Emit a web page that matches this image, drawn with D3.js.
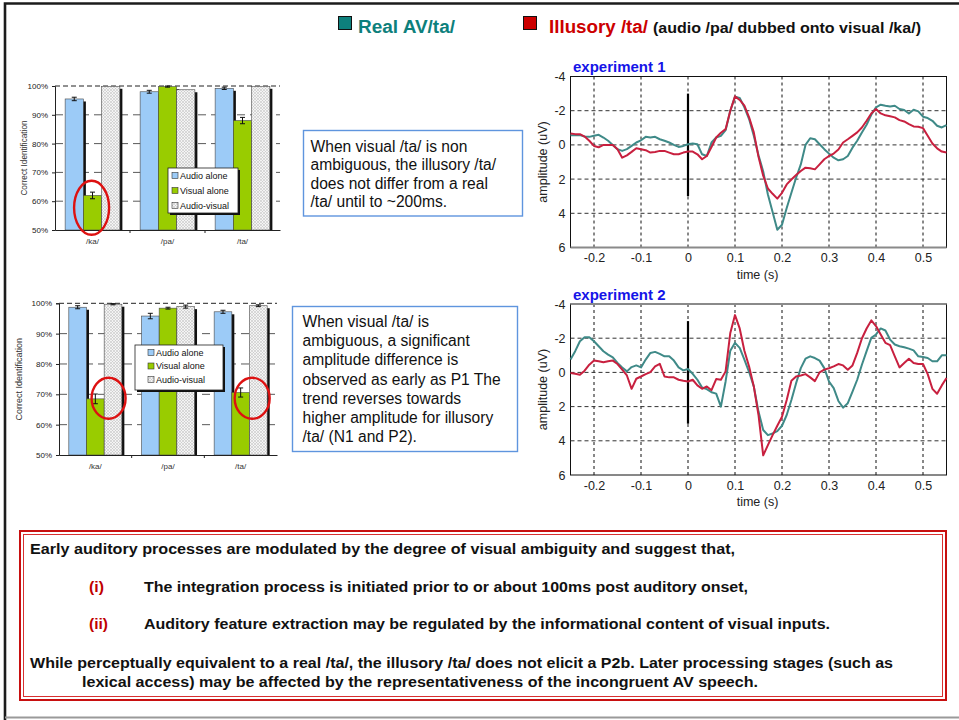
<!DOCTYPE html>
<html>
<head>
<meta charset="utf-8">
<script src="https://cdn.jsdelivr.net/npm/d3@7"></script>
<style>
  body { margin: 0; background: #fff; }
  svg { display: block; font-family: Arial, "Liberation Sans", sans-serif; }
</style>
</head>
<body>
<svg id="poster" width="959" height="720"></svg>
<script>
// ---------- identification scores (% correct) ----------
const categories = ["/ka/", "/pa/", "/ta/"];
const conditions = ["Audio alone", "Visual alone", "Audio-visual"];
const pctTicks = [50, 60, 70, 80, 90, 100];

const exp1Audio     = [95.5, 98.0, 99.2];
const exp1Visual    = [62.0, 99.8, 88.0];
const exp1AV        = [99.9, 98.7, 99.9];
const exp1AudioErr  = [0.6, 0.5, 0.4];
const exp1VisualErr = [1.15, 0.2, 1.1];
const exp1AVErr     = [0, 0, 0];

const exp2Audio     = [98.7, 95.8, 97.2];
const exp2Visual    = [68.5, 98.4, 70.6];
const exp2AV        = [99.7, 98.9, 99.2];
const exp2AudioErr  = [0.5, 0.9, 0.5];
const exp2VisualErr = [1.6, 0.3, 1.5];
const exp2AVErr     = [0.2, 0.5, 0.3];

// ---------- ERP waveforms (uV), sampled every 10 ms from -0.25 s ----------
const tStart = -0.25, tStep = 0.01;
const timeTicks = [-0.2, -0.1, 0, 0.1, 0.2, 0.3, 0.4, 0.5];
const ampTicks = [-4, -2, 0, 2, 4, 6];

const exp1Real = [
  -0.57,-0.57,-0.57,-0.49,-0.47,-0.53,-0.59,-0.43,-0.24,0,
  0.25,0.35,0.25,0.06,-0.14,-0.27,-0.47,-0.43,-0.47,-0.33,
  -0.24,-0.14,0,0.12,0.06,-0.04,-0.08,-0.04,0.55,0.65,
  -0.14,-0.43,-0.53,-0.86,-2.0,-2.82,-2.75,-2.2,-1.51,-0.53,
  0.6,1.55,2.9,3.92,4.96,4.67,3.69,2.8,1.92,1.14,
  0,-0.39,-0.33,-0.04,0.25,0.51,0.75,0.9,0.84,0.65,
  0.16,-0.24,-0.73,-1.18,-1.76,-2.2,-2.35,-2.29,-2.24,-2.29,
  -2.1,-2.04,-1.84,-2.06,-1.96,-1.65,-1.57,-1.41,-1.12,-1.02,-1.16
];
const exp1Illusory = [
  -0.67,-0.63,-0.63,-0.49,-0.24,0.06,0.14,0,0,0,
  0.25,0.75,0.61,0.41,0.2,0.25,0.31,0.45,0.41,0.35,
  0.35,0.45,0.55,0.55,0.45,0.39,0.39,0.55,0.84,0.65,
  0.12,-0.43,-0.71,-0.92,-2.0,-2.84,-2.63,-2.29,-1.61,-0.73,
  0.7,1.8,2.55,2.86,3.14,2.8,2.31,2.02,1.76,1.53,
  1.33,1.37,1.43,1.14,0.84,0.65,0.51,0.27,-0.14,-0.33,
  -0.53,-0.73,-1.02,-1.41,-1.84,-2.1,-1.84,-1.73,-1.67,-1.61,
  -1.45,-1.37,-1.22,-1.08,-1.06,-0.98,-0.53,-0.08,0.2,0.39,0.45
];
const exp2Real = [
  -0.75,-1.24,-1.82,-2.06,-2.06,-1.82,-1.53,-1.24,-1.04,-0.88,
  -0.55,-0.29,-0.06,-0.31,-0.41,-0.29,-0.75,-1.14,-1.2,-1.08,
  -0.94,-0.94,-0.69,-0.29,-0.12,-0.2,0.08,0.43,0.88,0.98,
  1.16,1.24,2.0,0.53,-1.27,-1.73,-1.43,-0.75,-0.02,0.82,
  2.29,3.37,3.67,3.57,3.43,3.12,2.49,1.61,0.63,-0.25,
  -0.8,-0.94,-0.84,-0.69,-0.25,0.53,0.92,1.67,2.06,1.8,
  1.12,0.43,-0.45,-1.24,-2.02,-2.22,-2.57,-2.45,-1.92,-1.63,
  -1.53,-1.47,-1.39,-1.29,-0.94,-0.9,-0.84,-0.65,-0.65,-1.0,-1.0
];
const exp2Illusory = [
  0.04,0.08,0.14,-0.1,-0.45,-0.69,-0.65,-0.59,-0.65,-0.69,
  -0.49,-0.16,0.18,0.96,0.37,0.24,0.1,-0.02,-0.35,-0.5,
  0.24,0.29,0.29,0.43,0.49,0.53,0.43,0.76,0.96,0.82,
  1.04,0.39,0.43,-0.06,-2.31,-3.35,-2.57,-1.27,-0.35,0.82,
  2.49,4.85,4.25,3.67,3.12,2.59,1.61,0.49,0.24,0.18,
  0.1,0.29,0.51,0,-0.16,-0.24,-0.35,-0.49,-0.41,-0.16,
  -0.41,-1.14,-1.98,-2.57,-3.04,-2.71,-2.22,-1.73,-1.59,-0.94,
  -0.29,-0.55,-0.8,-0.55,-0.49,-0.49,0.1,0.96,1.25,0.76,0.33
];

// ---------- colours ----------
const TEAL = "#3f8a88", CRIMSON = "#c8203f";
const BAR_BLUE = "#9ccbf7", BAR_GREEN = "#99cc00";

const svg = d3.select("#poster");
const defs = svg.append("defs");

// fine light texture used for the audio-visual bars
const pat = defs.append("pattern").attr("id", "hatch")
  .attr("patternUnits", "userSpaceOnUse").attr("width", 3).attr("height", 3);
pat.append("rect").attr("width", 3).attr("height", 3).attr("fill", "#f4f4f4");
pat.append("path").attr("d", "M0,0L3,3M3,0L0,3").attr("stroke", "#c4c4c4").attr("stroke-width", 0.6);

function fit(sel, w) {
  return sel.attr("textLength", w).attr("lengthAdjust", "spacingAndGlyphs");
}

// ---------- page frame ----------
svg.append("path").attr("d", "M5,720V3.5H959").attr("fill", "none")
  .attr("stroke", "#1c1c1c").attr("stroke-width", 2.6);
svg.append("line").attr("x1", 5).attr("x2", 959).attr("y1", 717.5).attr("y2", 717.5)
  .attr("stroke", "#9a9a9a").attr("stroke-width", 2);

// ---------- header legend ----------
svg.append("rect").attr("x", 338.5).attr("y", 16.5).attr("width", 13).attr("height", 13)
  .attr("fill", "#0d807c").attr("stroke", "#111").attr("stroke-width", 1);
fit(svg.append("text").attr("x", 358).attr("y", 32.5).attr("font-size", 18).attr("font-weight", "bold")
  .attr("fill", "#0d807c").text("Real AV/ta/"), 97);
svg.append("rect").attr("x", 523.5).attr("y", 16.5).attr("width", 13).attr("height", 13)
  .attr("fill", "#cc0000").attr("stroke", "#111").attr("stroke-width", 1);
fit(svg.append("text").attr("x", 549).attr("y", 32.5).attr("font-size", 18).attr("font-weight", "bold")
  .attr("fill", "#cc0000").text("Illusory /ta/"), 99);
fit(svg.append("text").attr("x", 653).attr("y", 32.5).attr("font-size", 15).attr("font-weight", "bold")
  .attr("fill", "#111").text("(audio /pa/ dubbed onto visual /ka/)"), 268);

// ---------- bar charts ----------
function barChart(cfg) {
  const g = svg.append("g");
  const y = d3.scaleLinear().domain([50, 100]).range([cfg.bottom, cfg.top]);
  const x0 = d3.scaleBand().domain(categories).range([cfg.left, cfg.right])
    .paddingInner(0.27).paddingOuter(0.135);
  const x1 = d3.scaleBand().domain(conditions).range([0, x0.bandwidth()]);
  const fills = [BAR_BLUE, BAR_GREEN, "url(#hatch)"];

  // gridlines
  pctTicks.filter(t => t > 50).forEach(t => {
    g.append("line").attr("x1", cfg.left).attr("x2", cfg.right)
      .attr("y1", y(t)).attr("y2", y(t))
      .attr("stroke", t === 100 ? "#222" : "#5a5a5a").attr("stroke-width", 1)
      .attr("stroke-dasharray", t === 100 ? "5,3" : "8,5");
  });

  // bars with drop shadow
  const rows = categories.map((c, i) => ({
    cat: c,
    vals: [cfg.audio[i], cfg.visual[i], cfg.av[i]],
    errs: [cfg.audioErr[i], cfg.visualErr[i], cfg.avErr[i]]
  }));
  rows.forEach(r => {
    conditions.forEach((cond, k) => {
      const bx = x0(r.cat) + x1(cond), bw = x1.bandwidth();
      const by = y(r.vals[k]), bh = y(50) - by;
      g.append("rect").attr("x", bx + 2.5).attr("y", by + 2.5)
        .attr("width", bw).attr("height", bh - 2.5).attr("fill", "#111");
      g.append("rect").attr("x", bx).attr("y", by).attr("width", bw).attr("height", bh)
        .attr("fill", fills[k]).attr("stroke", "#4a4a4a").attr("stroke-width", 0.6);
      if (r.errs[k] > 0) {
        const cx = bx + bw / 2, y1 = y(r.vals[k] - r.errs[k]), y2 = y(Math.min(100, r.vals[k] + r.errs[k]));
        g.append("path").attr("d", `M${cx},${y1}V${y2}M${cx - 2.5},${y1}H${cx + 2.5}M${cx - 2.5},${y2}H${cx + 2.5}`)
          .attr("stroke", "#111").attr("stroke-width", 1).attr("fill", "none");
      }
    });
  });

  // axes
  const yAxis = g.append("g").attr("transform", `translate(${cfg.left},0)`)
    .call(d3.axisLeft(y).tickValues(pctTicks).tickSize(3).tickFormat(d => d + "%"));
  yAxis.select(".domain").attr("stroke", "#222");
  yAxis.selectAll("line").attr("stroke", "#222");
  yAxis.selectAll("text").attr("font-size", 8).attr("fill", "#222")
    .attr("font-family", "Arial, 'Liberation Sans', sans-serif").attr("dx", -1);

  const xAxis = g.append("g").attr("transform", `translate(0,${cfg.bottom})`)
    .call(d3.axisBottom(x0).tickSize(0).tickPadding(8));
  xAxis.select(".domain").attr("stroke", "#222");
  xAxis.selectAll("text").attr("font-size", 8).attr("fill", "#333")
    .attr("font-family", "Arial, 'Liberation Sans', sans-serif");
  // boundary ticks between categories
  categories.slice(1).forEach(c => {
    const bx = x0(c) - x0.step() * x0.paddingInner() / 2;
    g.append("line").attr("x1", bx).attr("x2", bx).attr("y1", cfg.bottom).attr("y2", cfg.bottom + 3)
      .attr("stroke", "#222");
  });

  g.append("text").attr("transform", `translate(${cfg.labelX},${(cfg.top + cfg.bottom) / 2}) rotate(-90)`)
    .attr("text-anchor", "middle").attr("font-size", cfg.labelSize).attr("fill", "#333")
    .text("Correct Identification");

  // legend box
  const L = cfg.legend;
  g.append("rect").attr("x", L.x + 2).attr("y", L.y + 2).attr("width", L.w).attr("height", L.h).attr("fill", "#111");
  g.append("rect").attr("x", L.x).attr("y", L.y).attr("width", L.w).attr("height", L.h)
    .attr("fill", "#fff").attr("stroke", "#222").attr("stroke-width", 0.8);
  conditions.forEach((cond, k) => {
    const cy = L.y + L.first + k * L.gap;
    g.append("rect").attr("x", L.x + L.pad).attr("y", cy - 3).attr("width", 6).attr("height", 6)
      .attr("fill", fills[k]).attr("stroke", "#333").attr("stroke-width", 0.6);
    g.append("text").attr("x", L.x + L.pad + 8).attr("y", cy + 3.2).attr("font-size", 9).attr("fill", "#111")
      .text(cond);
  });

  // highlight rings
  cfg.rings.forEach(rg => {
    const bx = x0(rg.cat) + x1("Visual alone");
    g.append("ellipse").attr("cx", bx + x1.bandwidth() * rg.fx).attr("cy", y(rg.level))
      .attr("rx", rg.rx).attr("ry", rg.ry)
      .attr("fill", "none").attr("stroke", "#dd1111").attr("stroke-width", 2.4);
  });
  return g;
}

barChart({
  left: 55, right: 280, top: 86, bottom: 230, labelX: 27, labelSize: 8.2,
  audio: exp1Audio, visual: exp1Visual, av: exp1AV,
  audioErr: exp1AudioErr, visualErr: exp1VisualErr, avErr: exp1AVErr,
  legend: { x: 168, y: 168, w: 70, h: 45, pad: 4, first: 7.5, gap: 15 },
  rings: [{ cat: "/ka/", fx: 0.45, level: 57.7, rx: 17.5, ry: 27 }]
});
barChart({
  left: 59, right: 277, top: 303.3, bottom: 455, labelX: 22, labelSize: 9,
  audio: exp2Audio, visual: exp2Visual, av: exp2AV,
  audioErr: exp2AudioErr, visualErr: exp2VisualErr, avErr: exp2AVErr,
  legend: { x: 135, y: 345, w: 88, h: 45, pad: 13, first: 7.5, gap: 13.5 },
  rings: [{ cat: "/ka/", fx: 1.25, level: 68.7, rx: 17, ry: 20.5 },
          { cat: "/ta/", fx: 1.15, level: 68.7, rx: 17.5, ry: 20.5 }]
});

// ---------- comment boxes ----------
function noteBox(x, y, w, h, lines, tx, firstBase, lineGap) {
  svg.append("rect").attr("x", x).attr("y", y).attr("width", w).attr("height", h)
    .attr("fill", "#fff").attr("stroke", "#5f95de").attr("stroke-width", 1.4);
  lines.forEach((s, i) => {
    svg.append("text").attr("x", tx).attr("y", firstBase + i * lineGap)
      .attr("font-size", 15.6).attr("fill", "#111").text(s);
  });
}
noteBox(303.5, 130.5, 219, 85.5,
  ["When visual /ta/ is non", "ambiguous, the illusory /ta/", "does not differ from a real", "/ta/ until to ~200ms."],
  310.5, 152, 18.4);
noteBox(292.5, 306.5, 225, 145,
  ["When visual /ta/ is", "ambiguous, a significant", "amplitude difference is", "observed as early as P1 The",
   "trend reverses towards", "higher amplitude for illusory", "/ta/ (N1 and P2)."],
  302.5, 327, 19.2);

// ---------- ERP panels ----------
function erpPanel(cfg) {
  const g = svg.append("g");
  const x = d3.scaleLinear().domain([-0.25, 0.55]).range([cfg.left, cfg.right]);
  const y = d3.scaleLinear().domain([-4, 6]).range([cfg.top, cfg.bottom]);

  g.append("rect").attr("x", cfg.left).attr("y", cfg.top)
    .attr("width", cfg.right - cfg.left).attr("height", cfg.bottom - cfg.top)
    .attr("fill", "#fff").attr("stroke", "#111").attr("stroke-width", 1);

  // dashed grid
  timeTicks.forEach(t => g.append("line").attr("x1", x(t)).attr("x2", x(t))
    .attr("y1", cfg.top).attr("y2", cfg.bottom)
    .attr("stroke", "#111").attr("stroke-width", 1).attr("stroke-dasharray", "3,3"));
  ampTicks.slice(1, -1).forEach(a => g.append("line").attr("x1", cfg.left).attr("x2", cfg.right)
    .attr("y1", y(a)).attr("y2", y(a))
    .attr("stroke", "#333").attr("stroke-width", 1).attr("stroke-dasharray", "4,3"));

  // heavier edge
  const edgeY = cfg.greyEdge === "top" ? cfg.top : cfg.bottom;
  g.append("line").attr("x1", cfg.left).attr("x2", cfg.right).attr("y1", edgeY).attr("y2", edgeY)
    .attr("stroke", "#8a8a8a").attr("stroke-width", 2);

  // stimulus onset marker
  g.append("line").attr("x1", x(0)).attr("x2", x(0)).attr("y1", y(-3)).attr("y2", y(3))
    .attr("stroke", "#000").attr("stroke-width", 2.2);

  const line = d3.line().x((d, i) => x(tStart + i * tStep)).y(d => y(d));
  [[cfg.real, TEAL], [cfg.illusory, CRIMSON]].forEach(([vals, col]) => {
    g.append("path").datum(vals).attr("d", line).attr("fill", "none")
      .attr("stroke", col).attr("stroke-width", 2).attr("stroke-linejoin", "round");
  });

  // tick labels use a plain hyphen for negatives
  const xa = g.append("g").attr("transform", `translate(0,${cfg.bottom})`)
    .call(d3.axisBottom(x).tickValues(timeTicks).tickSize(0).tickPadding(6)
      .tickFormat(d => d === 0 ? "0" : d.toFixed(1)));
  xa.select(".domain").remove();
  xa.selectAll("text").attr("font-size", 12.5).attr("fill", "#222")
    .attr("font-family", "Arial, 'Liberation Sans', sans-serif");

  const ya = g.append("g").attr("transform", `translate(${cfg.left},0)`)
    .call(d3.axisLeft(y).tickValues(ampTicks).tickSize(0).tickPadding(5).tickFormat(d => String(d)));
  ya.select(".domain").remove();
  ya.selectAll("text").attr("font-size", 12.5).attr("fill", "#222")
    .attr("font-family", "Arial, 'Liberation Sans', sans-serif");

  g.append("text").attr("x", (x(0.1) + x(0.2)) / 2 - 1).attr("y", cfg.bottom + 31)
    .attr("text-anchor", "middle").attr("font-size", 12.5).attr("fill", "#222").text("time (s)");
  g.append("text").attr("transform", `translate(${cfg.left - 24},${(cfg.top + cfg.bottom) / 2}) rotate(-90)`)
    .attr("text-anchor", "middle").attr("font-size", 12.5).attr("fill", "#222").text("amplitude (uV)");
  g.append("text").attr("x", cfg.left + 2.5).attr("y", cfg.top - 4.5)
    .attr("font-size", 15).attr("font-weight", "bold").attr("fill", "#1414e8").text(cfg.title);
}

erpPanel({ left: 570.5, right: 946.5, top: 76.5, bottom: 247.5, greyEdge: "bottom",
  title: "experiment 1", real: exp1Real, illusory: exp1Illusory });
erpPanel({ left: 570.5, right: 946.5, top: 304, bottom: 475, greyEdge: "top",
  title: "experiment 2", real: exp2Real, illusory: exp2Illusory });

// ---------- conclusion box ----------
svg.append("rect").attr("x", 20).attr("y", 531).attr("width", 926).attr("height", 169)
  .attr("fill", "none").attr("stroke", "#c81010").attr("stroke-width", 2);
svg.append("rect").attr("x", 23.5).attr("y", 534.5).attr("width", 919).attr("height", 162)
  .attr("fill", "none").attr("stroke", "#d83030").attr("stroke-width", 1);

const concl = [
  { x: 30,  y: 553.5, w: 705, t: "Early auditory processes are modulated by the degree of visual ambiguity and suggest that," },
  { x: 89,  y: 591.5, w: 15,  t: "(i)", red: true },
  { x: 144, y: 591.5, w: 604, t: "The integration process is initiated prior to or about 100ms post auditory onset," },
  { x: 89,  y: 629,   w: 19,  t: "(ii)", red: true },
  { x: 144, y: 629,   w: 686, t: "Auditory feature extraction may be regulated by the informational content of visual inputs." },
  { x: 30,  y: 667.5, w: 863, t: "While perceptually equivalent to a real /ta/, the illusory /ta/ does not elicit a P2b. Later processing stages (such as" },
  { x: 82,  y: 686.5, w: 676, t: "lexical access) may be affected by the representativeness of the incongruent AV speech." }
];
concl.forEach(c => {
  fit(svg.append("text").attr("x", c.x).attr("y", c.y).attr("font-size", 14).attr("font-weight", "bold")
    .attr("fill", c.red ? "#c00000" : "#111").text(c.t), c.w);
});
</script>
</body>
</html>
